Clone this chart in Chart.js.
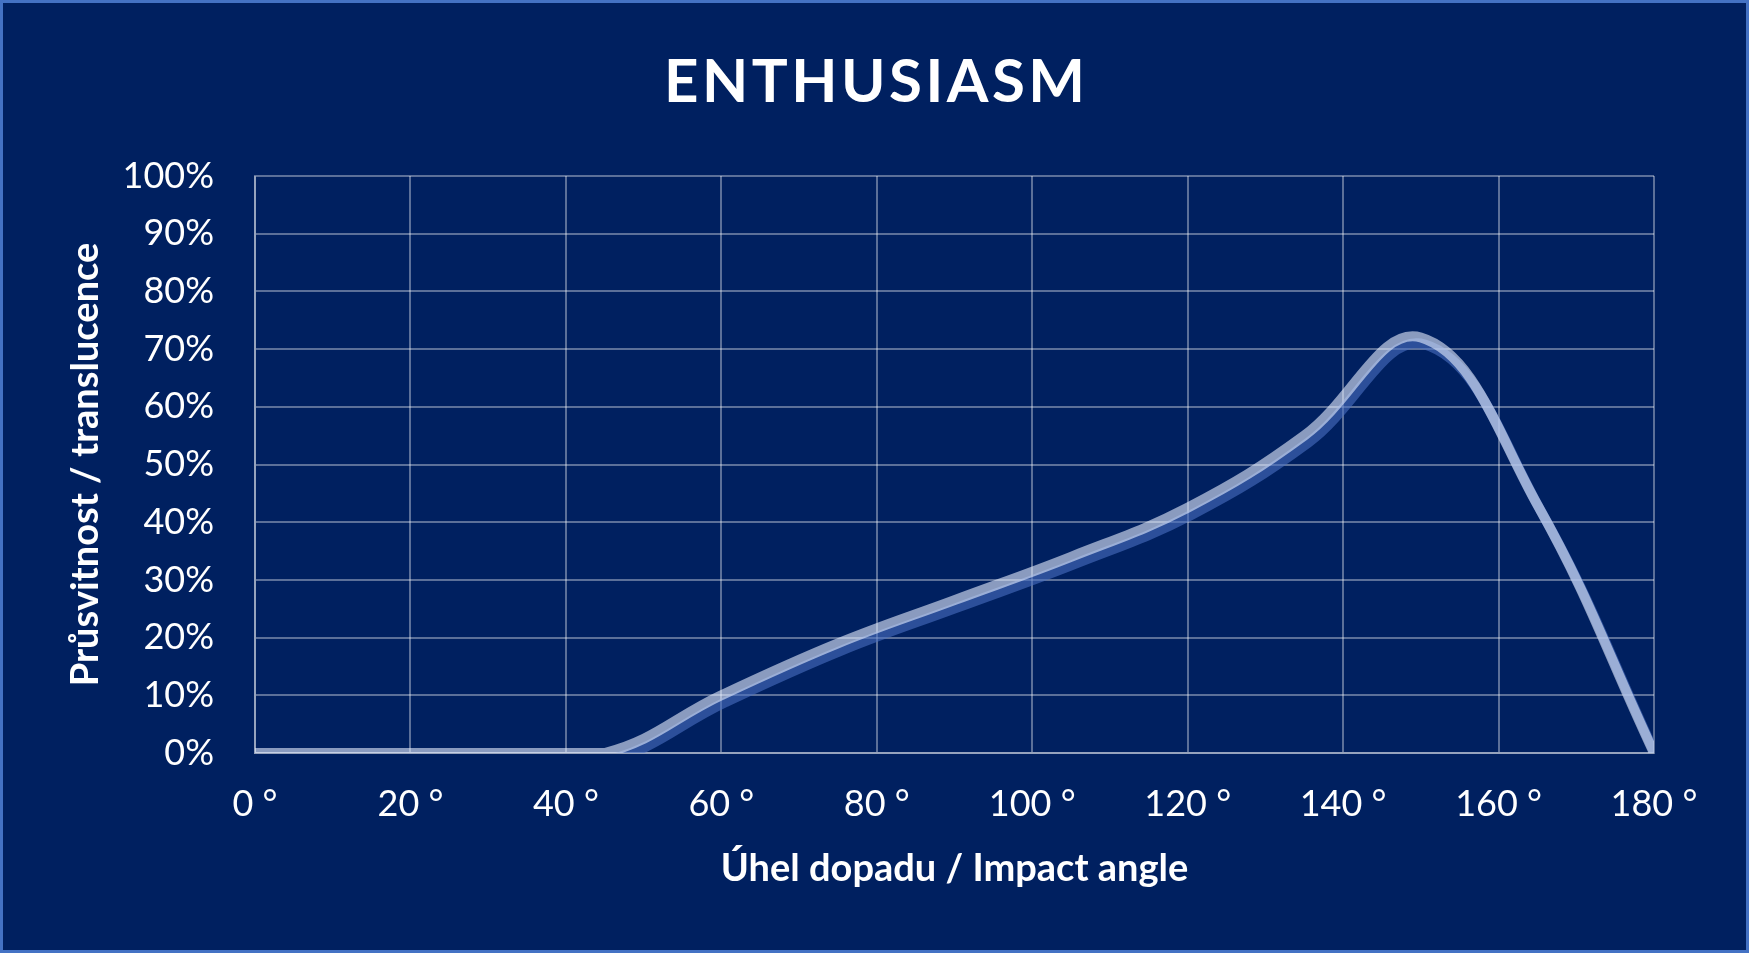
<!DOCTYPE html>
<html>
<head>
<meta charset="utf-8">
<title>Enthusiasm</title>
<script src="https://cdn.jsdelivr.net/npm/chart.js@4.4.1/dist/chart.umd.min.js"></script>
<style>
  html, body { margin: 0; padding: 0; background: #002060; }
  #wrap {
    position: absolute; left: 0; top: 0;
    width: 1749px; height: 953px;
    box-sizing: border-box;
    border: 3px solid #4472C4;
    background: #002060;
  }
  canvas { display: block; }
</style>
</head>
<body>
<div id="wrap"><canvas id="myChart" width="1743" height="947"></canvas></div>
<script>
// Data

const chartTitle = "ENTHUSIASM";
const xTitle = "Úhel dopadu / Impact angle";
const yTitle = "Průsvitnost / translucence";

const angles = [0, 15, 30, 45, 60, 75, 90, 105, 120, 135, 150, 165, 180];
const translucence = [0, 0, 0, 0, 10, 19, 26.5, 34, 42.5, 55, 72, 43, 0];

const xTickValues = [0, 20, 40, 60, 80, 100, 120, 140, 160, 180];
const yTickValues = [0, 10, 20, 30, 40, 50, 60, 70, 80, 90, 100];

// Estilos

const gridColor = "rgba(255, 255, 255, 0.36)";
const ctx = document.getElementById("myChart");

// Sombra azul bajo la línea
const lineShadow = {
  id: "lineShadow",
  beforeDatasetDraw(chart) {
    const c = chart.ctx;
    c.save();
    c.shadowColor = "#496FC1";
    c.shadowOffsetX = 4;
    c.shadowOffsetY = 7;
    c.shadowBlur = 0;
  },
  afterDatasetDraw(chart) {
    chart.ctx.restore();
  },
};

// Título con espaciado entre letras
const bigTitle = {
  id: "bigTitle",
  afterDraw(chart) {
    const c = chart.ctx;
    const targetWidth = 421;
    c.save();
    c.font = "bold 60px Lato";
    c.fillStyle = "#ffffff";
    c.textAlign = "left";
    c.textBaseline = "alphabetic";
    const w = c.measureText(chartTitle).width;
    const sp = Math.max(0, (targetWidth - w) / (chartTitle.length - 1));
    c.letterSpacing = sp + "px";
    c.fillText(chartTitle, chart.width / 2 - targetWidth / 2, 99);
    c.restore();
  },
};

const points = angles.map((a, i) => ({ x: a, y: translucence[i] }));

const myChart = new Chart(ctx, {
  type: "line",
  data: {
    datasets: [
      {
        label: chartTitle,
        data: points,
        borderColor: "rgba(230, 238, 255, 0.6)",
        borderWidth: 10,
        pointRadius: 0,
        tension: 0.4,
        fill: false,
      },
    ],
  },
  options: {
    responsive: false,
    animation: false,
    layout: {
      padding: { top: 173, right: 92, bottom: 0, left: 0 },
    },
    plugins: {
      legend: { display: false },
      tooltip: { enabled: false },
      title: { display: false },
    },
    scales: {
      x: {
        type: "linear",
        min: 0,
        max: 180,
        afterBuildTicks: (scale) => {
          scale.ticks = xTickValues.map((v) => ({ value: v }));
        },
        afterFit: (scale) => {
          scale.height = 197;
        },
        grid: { color: gridColor, lineWidth: 2, drawTicks: false },
        border: { color: gridColor, width: 2 },
        ticks: {
          color: "#ffffff",
          font: { family: "Lato", size: 36 },
          padding: 30,
          maxRotation: 0,
          autoSkip: false,
          callback: (v) => v + " °",
        },
        title: {
          display: true,
          text: xTitle,
          color: "#ffffff",
          font: { family: "Lato", size: 38, weight: "bold" },
          padding: { top: 0, bottom: 58 },
        },
      },
      y: {
        min: 0,
        max: 100,
        afterBuildTicks: (scale) => {
          scale.ticks = yTickValues.map((v) => ({ value: v }));
        },
        afterFit: (scale) => {
          scale.width = 252;
        },
        grid: { color: gridColor, lineWidth: 2, drawTicks: false },
        border: { color: gridColor, width: 2 },
        ticks: {
          color: "#ffffff",
          font: { family: "Lato", size: 36 },
          padding: 41,
          callback: (v) => v + "%",
        },
        title: {
          display: true,
          text: yTitle,
          color: "#ffffff",
          font: { family: "Lato", size: 38, weight: "bold" },
          padding: { top: 60, bottom: 0 },
        },
      },
    },
  },
  plugins: [lineShadow, bigTitle],
});
</script>
</body>
</html>
